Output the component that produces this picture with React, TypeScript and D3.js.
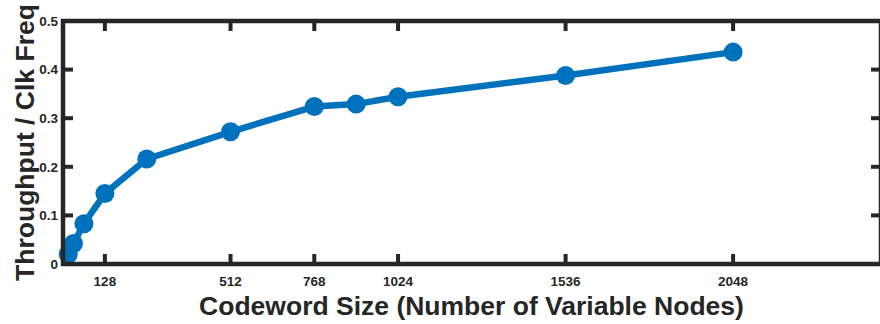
import React from "react";
import * as d3 from "d3";

// Codeword size (number of variable nodes) vs. normalized throughput
const codewordSizes = [16, 32, 64, 128, 256, 512, 768, 896, 1024, 1536, 2048];
const throughputPerClk = [0.02, 0.042, 0.083, 0.145, 0.216, 0.272, 0.324, 0.329, 0.344, 0.388, 0.436];
const xTickValues = [128, 512, 768, 1024, 1536, 2048];
const yTickValues = [0, 0.1, 0.2, 0.3, 0.4, 0.5];

const W = 880;
const H = 324;
const M = { left: 63, right: 881, top: 21, bottom: 264 };
const AXIS = "#262626";
const BLUE = "#0072BD";
const FONT = "'Liberation Sans', Arial, Helvetica, sans-serif";

export default function App() {
  const x = d3.scaleLinear().domain([0, 2500]).range([M.left, M.right]);
  const y = d3.scaleLinear().domain([0, 0.5]).range([M.bottom, M.top]);

  const pts: [number, number][] = codewordSizes.map((c, i) => [c, throughputPerClk[i]]);
  const line = d3
    .line<[number, number]>()
    .x((d) => x(d[0]))
    .y((d) => y(d[1]));

  const tickLen = 10;
  const tickW = 4;

  return (
    <svg
      width={W}
      height={H}
      style={{ position: "fixed", left: 0, top: 0, background: "#fff" }}
      fontFamily={FONT}
    >
      <rect x={0} y={0} width={W} height={H} fill="#fff" />

      {/* data line and markers */}
      <path d={line(pts) ?? ""} fill="none" stroke={BLUE} strokeWidth={6.5} strokeLinejoin="round" />
      {pts.map((d, i) => (
        <circle key={i} cx={x(d[0])} cy={y(d[1])} r={9.5} fill={BLUE} />
      ))}

      {/* ticks: bottom/top for x, left/right for y, pointing inward */}
      {xTickValues.map((t) => (
        <g key={"xt" + t}>
          <line x1={x(t)} x2={x(t)} y1={M.bottom} y2={M.bottom - tickLen} stroke={AXIS} strokeWidth={tickW} />
          <line x1={x(t)} x2={x(t)} y1={M.top} y2={M.top + tickLen} stroke={AXIS} strokeWidth={tickW} />
          <text
            x={x(t)}
            y={M.bottom + 22}
            textAnchor="middle"
            fontSize={13.5}
            fontWeight="bold"
            fill={AXIS}
          >
            {t}
          </text>
        </g>
      ))}
      {yTickValues.map((t) => (
        <g key={"yt" + t}>
          <line x1={M.left} x2={M.left + tickLen} y1={y(t)} y2={y(t)} stroke={AXIS} strokeWidth={tickW} />
          <line x1={M.right} x2={M.right - tickLen} y1={y(t)} y2={y(t)} stroke={AXIS} strokeWidth={tickW} />
          <text
            x={M.left - 5}
            y={y(t)}
            dy="0.35em"
            textAnchor="end"
            fontSize={13.5}
            fontWeight="bold"
            fill={AXIS}
          >
            {d3.format("~g")(t)}
          </text>
        </g>
      ))}

      {/* box */}
      <rect
        x={M.left}
        y={M.top}
        width={M.right - M.left}
        height={M.bottom - M.top}
        fill="none"
        stroke={AXIS}
        strokeWidth={4.5}
      />

      {/* axis titles */}
      <text
        x={(M.left + 880) / 2}
        y={315}
        textAnchor="middle"
        fontSize={26.5}
        fontWeight="bold"
        fill={AXIS}
      >
        Codeword Size (Number of Variable Nodes)
      </text>
      <text
        transform={`translate(34, ${(M.top + M.bottom) / 2}) rotate(-90)`}
        textAnchor="middle"
        fontSize={26.5}
        fontWeight="bold"
        fill={AXIS}
      >
        Throughput / Clk Freq
      </text>
    </svg>
  );
}
